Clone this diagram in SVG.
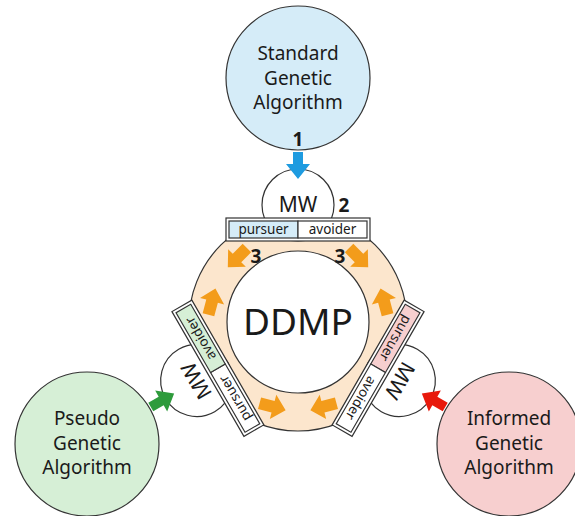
<svg xmlns="http://www.w3.org/2000/svg" width="575" height="516" viewBox="0 0 575 516">
  <style>
    text { font-family: "Noto Sans", "Open Sans", "DejaVu Sans", sans-serif; fill: #1a1a1a; text-anchor: middle; }
    .ln { stroke: #333; stroke-width: 1.2; }
    .algo { font-size: 19px; }
    .mwt { font-size: 21px; }
    .cellt { font-size: 13.5px; }
    .num { font-size: 19px; font-weight: bold; }
    .ddmp { font-size: 37px; }
    .mw { fill: #fff; }
    .box { fill: #fff; }
    .cell { fill: #fff; }
    .blue { fill: #d5ecf8; }
    .green { fill: #d6efd6; }
    .pink { fill: #f7cfcf; }
    .oa { fill: #f39c1b; }
  </style>
  <defs>
    <path id="orange-arrow" d="M-14,-6 L0,-6 L0,-12.5 L13,0 L0,12.5 L0,6 L-14,6 Z"/>
    <polygon id="input-arrow" points="293,152 303,152 303,164 310,164 298,179 286,164 293,164"/>
  </defs>

  <!-- shared memory ring around the DDMP core -->
  <g id="ddmp">
    <circle class="ln" cx="298" cy="322" r="109" fill="#fce6cd"/>
    <circle class="ln" cx="298" cy="322" r="71" fill="#fff"/>
    <text class="ddmp" x="298" y="335">DDMP</text>
  </g>

  <!-- migration windows with pursuer / avoider slots -->
  <g id="mw-top">
    <circle class="mw ln" cx="298" cy="205" r="36"/>
    <text class="mwt" x="298" y="212">MW</text>
    <rect class="box ln" x="226" y="218" width="144" height="23"/>
    <rect class="cell blue ln" x="229" y="221" width="69" height="17"/>
    <rect class="cell ln" x="298" y="221" width="69" height="17"/>
    <text class="cellt" x="263.5" y="234">pursuer</text>
    <text class="cellt" x="332.5" y="234">avoider</text>
  </g>
  <g id="mw-left" transform="rotate(-120 298 322)">
    <circle class="mw ln" cx="298" cy="205" r="36"/>
    <text class="mwt" x="298" y="212">MW</text>
    <rect class="box ln" x="226" y="218" width="144" height="23"/>
    <rect class="cell ln" x="229" y="221" width="69" height="17"/>
    <rect class="cell green ln" x="298" y="221" width="69" height="17"/>
    <text class="cellt" x="263.5" y="234">pursuer</text>
    <text class="cellt" x="332.5" y="234">avoider</text>
  </g>
  <g id="mw-right" transform="rotate(120 298 322)">
    <circle class="mw ln" cx="298" cy="205" r="36"/>
    <text class="mwt" x="298" y="212">MW</text>
    <rect class="box ln" x="226" y="218" width="144" height="23"/>
    <rect class="cell pink ln" x="229" y="221" width="69" height="17"/>
    <rect class="cell ln" x="298" y="221" width="69" height="17"/>
    <text class="cellt" x="263.5" y="234">pursuer</text>
    <text class="cellt" x="332.5" y="234">avoider</text>
  </g>

  <!-- algorithm populations -->
  <g id="sga">
    <circle class="blue ln" cx="298" cy="78" r="72"/>
    <text class="algo" x="298" y="60">Standard</text>
    <text class="algo" x="298" y="85">Genetic</text>
    <text class="algo" x="298" y="109">Algorithm</text>
  </g>
  <g id="pga">
    <circle class="green ln" cx="87" cy="444" r="72"/>
    <text class="algo" x="87" y="425">Pseudo</text>
    <text class="algo" x="87" y="450">Genetic</text>
    <text class="algo" x="87" y="474">Algorithm</text>
  </g>
  <g id="iga">
    <circle class="pink ln" cx="509" cy="444" r="72"/>
    <text class="algo" x="509" y="425">Informed</text>
    <text class="algo" x="509" y="450">Genetic</text>
    <text class="algo" x="509" y="474">Algorithm</text>
  </g>

  <!-- connectors: migrations into the windows and exchanges within the ring -->
  <g id="connectors">
    <use href="#input-arrow" fill="#1e9be0"/>
    <use href="#input-arrow" fill="#2e9b3c" transform="rotate(-120 298 322)"/>
    <use href="#input-arrow" fill="#e8190c" transform="rotate(120 298 322)"/>
    <g>
      <use class="oa" href="#orange-arrow" transform="translate(237 258) rotate(135)"/>
      <use class="oa" href="#orange-arrow" transform="translate(359 258) rotate(45)"/>
    </g>
    <g transform="rotate(-120 298 322)">
      <use class="oa" href="#orange-arrow" transform="translate(237 258) rotate(135)"/>
      <use class="oa" href="#orange-arrow" transform="translate(359 258) rotate(45)"/>
    </g>
    <g transform="rotate(120 298 322)">
      <use class="oa" href="#orange-arrow" transform="translate(237 258) rotate(135)"/>
      <use class="oa" href="#orange-arrow" transform="translate(359 258) rotate(45)"/>
    </g>
  </g>

  <!-- step numbers -->
  <g id="steps">
    <text class="num" x="298" y="146">1</text>
    <text class="num" x="344" y="212">2</text>
    <text class="num" x="256" y="263">3</text>
    <text class="num" x="340" y="263">3</text>
  </g>
</svg>
